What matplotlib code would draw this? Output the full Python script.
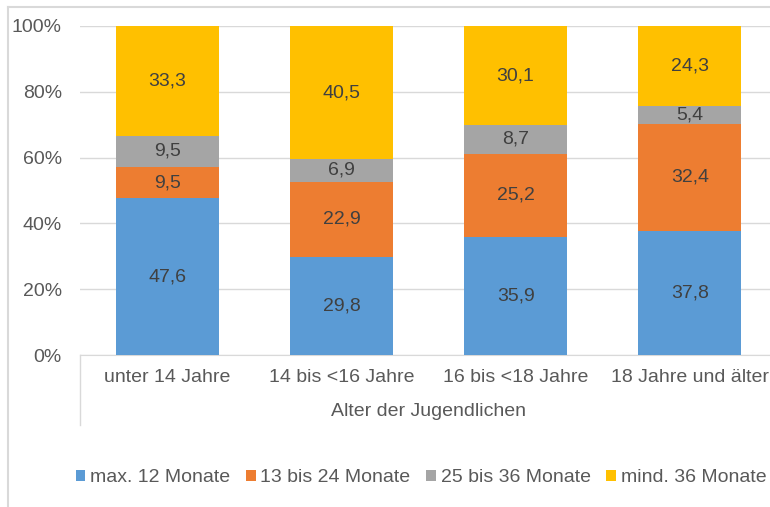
import matplotlib
matplotlib.use("Agg")
import matplotlib.pyplot as plt
from matplotlib.lines import Line2D
import numpy as np

categories = ["unter 14 Jahre", "14 bis <16 Jahre", "16 bis <18 Jahre", "18 Jahre und älter"]
series_names = ["max. 12 Monate", "13 bis 24 Monate", "25 bis 36 Monate", "mind. 36 Monate"]
s_max12 = [47.6, 29.8, 35.9, 37.8]
s_13_24 = [9.5, 22.9, 25.2, 32.4]
s_25_36 = [9.5, 6.9, 8.7, 5.4]
s_min36 = [33.3, 40.5, 30.1, 24.3]
y_ticks = [0, 20, 40, 60, 80, 100]
x_title = "Alter der Jugendlichen"

colors = ["#5B9BD5", "#ED7D31", "#A5A5A5", "#FFC000"]

plt.rcParams['font.family'] = ['Liberation Sans', 'DejaVu Sans']
FS = 14

fig = plt.figure(figsize=(7.7, 5.07), dpi=100)
W, H = 770, 507
ax = fig.add_axes([80 / W, 152 / H, 697 / W, 329 / H])

data = np.array([s_max12, s_13_24, s_25_36, s_min36])
totals = data.sum(axis=0)
pct = data / totals * 100
x = np.arange(len(categories))
bottom = np.zeros(len(categories))
for i, name in enumerate(series_names):
    bars = ax.bar(x, pct[i], 0.59, bottom=bottom, color=colors[i], label=name, zorder=3)
    for j, b in enumerate(bars):
        ax.text(b.get_x() + b.get_width() / 2, bottom[j] + pct[i][j] / 2,
                f"{data[i][j]:.1f}".replace(".", ","), ha="center", va="center",
                fontsize=FS, color="#404040", zorder=4)
    bottom += pct[i]

ax.set_xlim(-0.5, 3.5)
ax.set_ylim(0, 100)
ax.set_yticks(y_ticks)
ax.set_yticklabels([f"{v}%" for v in y_ticks])
ax.yaxis.grid(True, color="#D9D9D9", linewidth=1, zorder=0)
ax.set_xticks(x)
ax.set_xticklabels(categories)
ax.tick_params(axis="both", length=0, labelsize=FS, labelcolor="#595959")
ax.tick_params(axis="x", pad=10)
ax.tick_params(axis="y", pad=13)
for s in ["top", "right", "left"]:
    ax.spines[s].set_visible(False)
ax.spines["bottom"].set_color("#D9D9D9")
ax.set_xlabel(x_title, fontsize=FS, color="#595959", labelpad=12)

ax.add_line(Line2D([0, 0], [0, -70 / 329], transform=ax.transAxes,
                   color="#D9D9D9", linewidth=1, clip_on=False))

# outer frame (left and top edges)
fig.add_artist(Line2D([8 / W, 8 / W], [0, 1 - 7 / H], transform=fig.transFigure,
                      color="#D9D9D9", linewidth=1.5))
fig.add_artist(Line2D([8 / W, 1], [1 - 7 / H, 1 - 7 / H], transform=fig.transFigure,
                      color="#D9D9D9", linewidth=1.5))

leg = fig.legend(loc="center", bbox_to_anchor=(421 / W, 1 - 478 / H), ncol=4,
                 frameon=False, fontsize=FS, handlelength=0.5, handleheight=0.5,
                 handletextpad=0.25, columnspacing=0.8, labelcolor="#595959",
                 borderpad=0.2, borderaxespad=0)

fig.savefig("out.png", dpi=100)
